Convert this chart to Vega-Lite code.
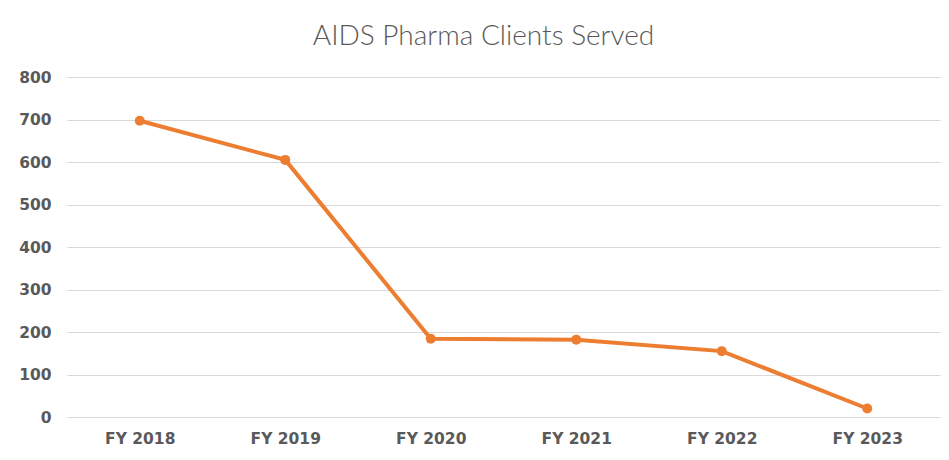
{
  "$schema": "https://vega.github.io/schema/vega-lite/v6.json",
  "width": 873,
  "height": 340,
  "autosize": "none",
  "padding": {"left": 67, "top": 77, "right": 9, "bottom": 43},
  "background": "white",
  "title": {
    "text": "AIDS Pharma Clients Served",
    "font": "Lato",
    "fontWeight": 300,
    "fontSize": 28,
    "color": "#595959",
    "anchor": "middle",
    "baseline": "alphabetic",
    "offset": -3,
    "dx": -20
  },
  "data": {
    "values": [
      {"year": "FY 2018", "clients": 697},
      {"year": "FY 2019", "clients": 605},
      {"year": "FY 2020", "clients": 184},
      {"year": "FY 2021", "clients": 182},
      {"year": "FY 2022", "clients": 155},
      {"year": "FY 2023", "clients": 20}
    ]
  },
  "encoding": {
    "x": {
      "field": "year",
      "type": "ordinal",
      "scale": {"type": "point", "padding": 0.5},
      "axis": {
        "title": null,
        "labelAngle": 0,
        "domain": false,
        "ticks": false,
        "grid": false,
        "labelFont": "DejaVu Sans",
        "labelFontWeight": "bold",
        "labelFontSize": 15.5,
        "labelColor": "#595959",
        "labelPadding": 14
      }
    },
    "y": {
      "field": "clients",
      "type": "quantitative",
      "scale": {"domain": [0, 800], "nice": false},
      "axis": {
        "title": null,
        "values": [0, 100, 200, 300, 400, 500, 600, 700, 800],
        "domain": false,
        "ticks": false,
        "gridColor": "#D9D9D9",
        "gridWidth": 1,
        "labelFont": "DejaVu Sans",
        "labelFontWeight": "bold",
        "labelFontSize": 15.5,
        "labelColor": "#595959",
        "labelPadding": 16
      }
    }
  },
  "layer": [
    {"mark": {"type": "line", "color": "#ED7D31", "strokeWidth": 4}},
    {"mark": {"type": "point", "filled": true, "color": "#ED7D31", "size": 100, "opacity": 1}}
  ],
  "config": {"view": {"stroke": null}}
}
